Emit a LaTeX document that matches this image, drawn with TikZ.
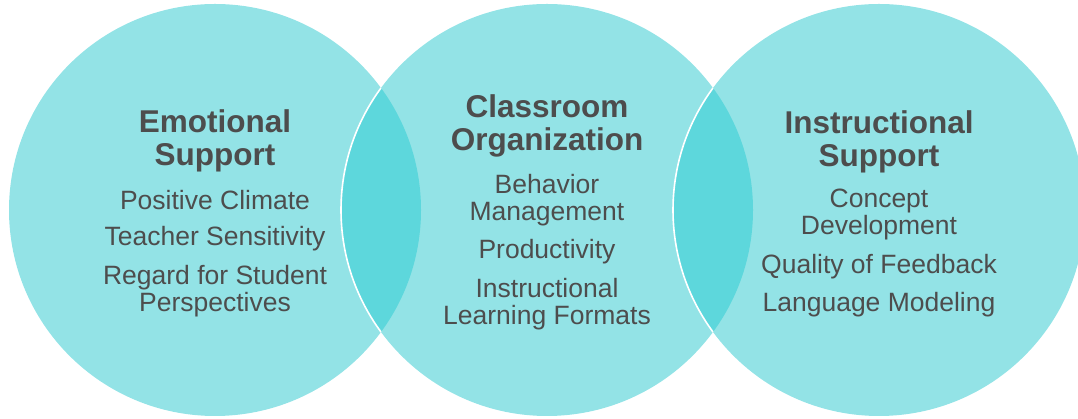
\documentclass[tikz,border=0pt]{standalone}
\usepackage{fontspec}
\setmainfont{Liberation Sans}
\definecolor{ring}{HTML}{93E3E6}
\definecolor{lens}{HTML}{5DD7DC}
\definecolor{txt}{HTML}{4D4D4D}
\begin{document}
\begin{tikzpicture}[x=1pt,y=1pt,
  ttl/.style={text=txt,font=\fontsize{31.5}{33}\selectfont\bfseries,align=center,inner sep=0pt},
  itm/.style={text=txt,font=\fontsize{26.5}{27}\selectfont,align=center,inner sep=0pt}]
\useasboundingbox (0,0) rectangle (1078,419);
\def\R{206}
\coordinate (cl) at (215,209);
\coordinate (cm) at (547,209);
\coordinate (cr) at (879,209);
\fill[ring] (cl) circle (\R);
\fill[ring] (cm) circle (\R);
\fill[ring] (cr) circle (\R);
\begin{scope}
  \clip (cl) circle (\R);
  \fill[lens] (cm) circle (\R);
  \draw[white,line width=1.6] (cm) circle (\R);
\end{scope}
\begin{scope}
  \clip (cm) circle (\R);
  \fill[lens] (cr) circle (\R);
  \draw[white,line width=1.6] (cr) circle (\R);
\end{scope}
% left
\node[ttl] (t1) at (215,278) {Emotional\\Support};
\node[itm] (a1) at (215,219) {Positive Climate};
\node[itm] (a2) at (215,180) {Teacher Sensitivity};
\node[itm] (a3) at (215,128) {Regard for Student\\Perspectives};
% middle
\node[ttl] (t2) at (547,293) {Classroom\\Organization};
\node[itm] (b1) at (547,219) {Behavior\\Management};
\node[itm] (b2) at (547,167) {Productivity};
\node[itm] (b3) at (547,115) {Instructional\\Learning Formats};
% right
\node[ttl] (t3) at (879,277) {Instructional\\Support};
\node[itm] (c1) at (879,204) {Concept\\Development};
\node[itm] (c2) at (879,152) {Quality of Feedback};
\node[itm] (c3) at (879,114) {Language Modeling};
\end{tikzpicture}
\end{document}
